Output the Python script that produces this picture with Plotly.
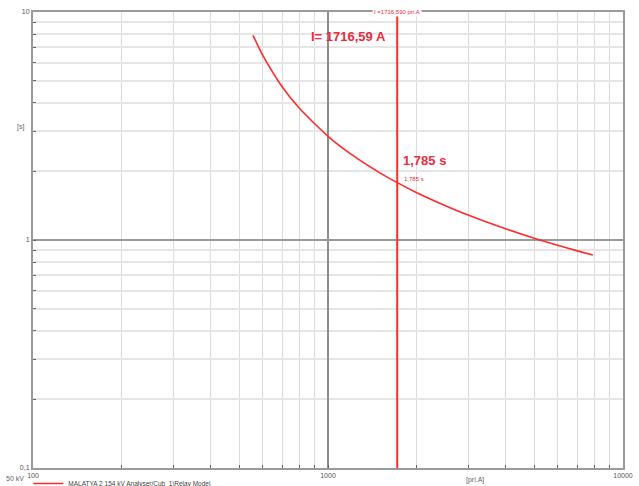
import numpy as np
import plotly.graph_objects as go

# Relay trip characteristic (primary current in A, operating time in s)
current_a = [557, 600, 700, 800, 1000, 1200, 1500, 1716.59, 2000, 2500, 3000,
             4000, 5000, 6000, 7000, 7900]
time_s = [7.9, 6.48, 4.69, 3.78, 2.85, 2.375, 1.97, 1.785, 1.613, 1.414, 1.283,
          1.12, 1.019, 0.948, 0.896, 0.86]

# Cursor reading
i_trip = 1716.59
t_trip = 1.785

series_name = "MALATYA 2 154 kV Analyser/Cub_1\\Relay Model"

# Axis ticks
x_major = [100, 1000, 10000]
x_major_text = ["100", "1000", "10000"]
x_minor = [200, 300, 400, 500, 600, 700, 800, 900,
           2000, 3000, 4000, 5000, 6000, 7000, 8000, 9000]
y_major = [0.1, 1, 10]
y_major_text = ["0,1", "1", "10"]
y_minor = [0.2, 0.3, 0.4, 0.5, 0.6, 0.7, 0.8, 0.9,
           2, 3, 4, 5, 6, 7, 8, 9]

RED = "#ff2a2a"
TXT_RED = "#ee2a3c"
FONT = "Liberation Sans"

fig = go.Figure()

fig.add_trace(go.Scatter(
    x=current_a, y=time_s, mode="lines", name=series_name,
    line=dict(color=RED, width=1.6, shape="spline", smoothing=0.6),
    showlegend=True,
))

fig.add_trace(go.Scatter(
    x=[i_trip, i_trip], y=[0.1, 10], mode="lines",
    line=dict(color=RED, width=2), showlegend=False, hoverinfo="skip",
))

fig.update_layout(
    width=639, height=486,
    margin=dict(l=33, r=16, t=12, b=18, autoexpand=False),
    paper_bgcolor="white", plot_bgcolor="white",
    font=dict(family=FONT, size=7, color="#555555"),
    showlegend=True,
    legend=dict(
        orientation="h", x=-0.008, xanchor="left", y=-0.034, yanchor="middle",
        font=dict(size=6.5, color="#444444"), bgcolor="rgba(0,0,0,0)",
        itemwidth=30, tracegroupgap=0,
    ),
)

fig.update_xaxes(
    type="log", range=[2, 4], automargin=False,
    tickmode="array", tickvals=x_major, ticktext=x_major_text,
    ticks="inside", ticklen=3, tickcolor="#666666",
    showgrid=True, gridcolor="#8c8c8c", gridwidth=1.5,
    showline=True, linecolor="#9a9a9a", linewidth=2, mirror=True,
    zeroline=False,
    tickfont=dict(size=7, color="#555555"),
    minor=dict(tickmode="array", tickvals=x_minor, ticks="inside", ticklen=3,
               tickcolor="#666666", showgrid=True, gridcolor="#dcdcdc",
               gridwidth=1),
)

fig.update_yaxes(
    type="log", range=[-1, 1], automargin=False,
    tickmode="array", tickvals=y_major, ticktext=y_major_text,
    ticks="inside", ticklen=3, tickcolor="#666666",
    showgrid=True, gridcolor="#9a9a9a", gridwidth=2,
    showline=True, linecolor="#9a9a9a", linewidth=2, mirror=True,
    zeroline=False,
    tickfont=dict(size=7, color="#555555"),
    minor=dict(tickmode="array", tickvals=y_minor, ticks="inside", ticklen=3,
               tickcolor="#666666", showgrid=True, gridcolor="#e6e6e6",
               gridwidth=2),
)

# Cursor labels
fig.add_annotation(
    x=np.log10(860), y=np.log10(7.8), xref="x", yref="y",
    text=f"I= {i_trip:.2f}".replace(".", ",") + " A",
    showarrow=False, xanchor="left", yanchor="middle",
    font=dict(family=FONT, size=13, color=TXT_RED, weight="bold"),
)
fig.add_annotation(
    x=np.log10(1770), y=np.log10(2.23), xref="x", yref="y",
    text=f"{t_trip:.3f}".replace(".", ",") + " s",
    showarrow=False, xanchor="left", yanchor="middle",
    font=dict(family=FONT, size=13, color=TXT_RED, weight="bold"),
)
fig.add_annotation(
    x=np.log10(1775), y=np.log10(1.85), xref="x", yref="y",
    text=f"{t_trip:.3f}".replace(".", ",") + " s",
    showarrow=False, xanchor="left", yanchor="middle",
    font=dict(family=FONT, size=6, color=TXT_RED),
)
fig.add_annotation(
    x=np.log10(i_trip), y=1, xref="x", yref="paper",
    text=f"I ={i_trip:.3f}".replace(".", ",") + " pri.A",
    showarrow=False, xanchor="center", yanchor="middle",
    bgcolor="white", borderpad=1,
    font=dict(family=FONT, size=6, color=TXT_RED),
)

# Axis captions
fig.add_annotation(
    x=-0.012, y=np.log10(3.13), xref="paper", yref="y", text="[s]",
    showarrow=False, xanchor="right", yanchor="middle",
    font=dict(size=7, color="#666666"),
)
fig.add_annotation(
    x=np.log10(3150), y=-0.013, xref="x", yref="paper", text="[pri.A]",
    showarrow=False, xanchor="center", yanchor="top",
    font=dict(size=7, color="#666666"),
)
fig.add_annotation(
    x=-0.012, y=-0.011, xref="paper", yref="paper", text="50 kV",
    showarrow=False, xanchor="right", yanchor="top",
    font=dict(size=7, color="#666666"),
)

fig.write_html("out.html")
